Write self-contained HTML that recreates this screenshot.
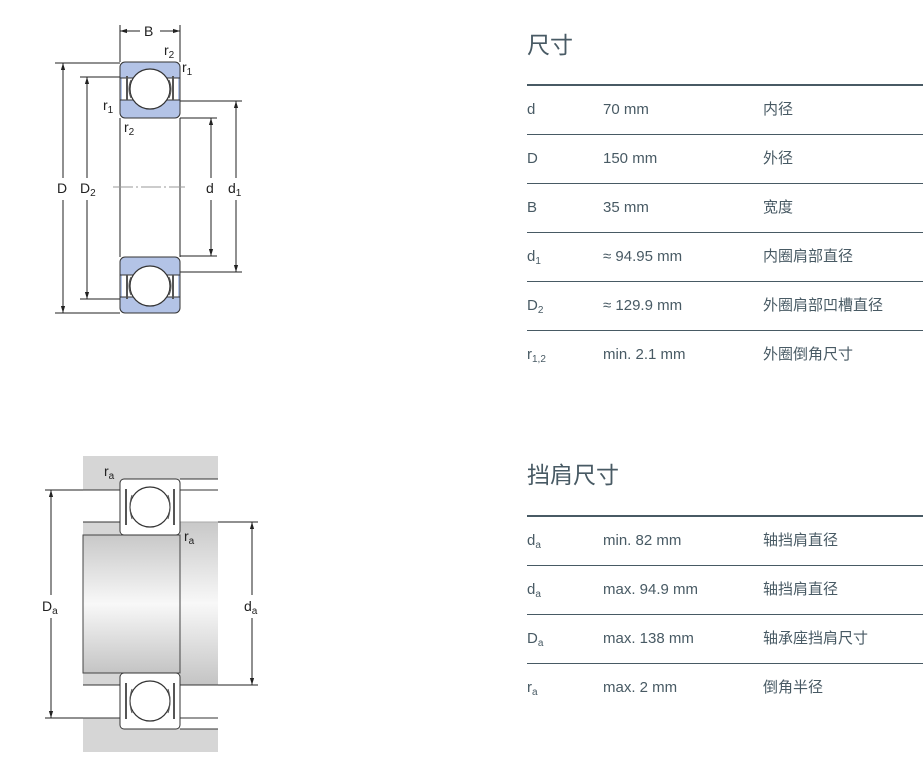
<!DOCTYPE html>
<html><head><meta charset="utf-8"><style>
body{margin:0;width:923px;height:766px;background:#fff;position:relative;overflow:hidden;font-family:"Liberation Sans","Noto Sans CJK SC",sans-serif;color:#485a64}
.t{position:absolute;left:527px;font-size:23px}
.ln{position:absolute;left:527px;width:396px;height:1px;background:#485a64}
.r{position:absolute;font-size:15px;line-height:18px}
sub{font-size:10px;vertical-align:-3px}
svg{position:absolute;left:0;top:0}
svg text{font-family:"Liberation Sans",sans-serif;font-size:14px;fill:#222}
</style></head><body>
<svg width="923" height="766">
<defs>
<linearGradient id="sh" x1="0" y1="0" x2="0" y2="1"><stop offset="0" stop-color="#c8c8c8"/><stop offset="0.5" stop-color="#f8f8f8"/><stop offset="1" stop-color="#c4c4c4"/></linearGradient>
<marker id="a" viewBox="0 0 10 10" refX="10" refY="5" markerWidth="7" markerHeight="7" orient="auto-start-reverse"><path d="M0,2 L10,5 L0,8z" fill="#222"/></marker>
<g id="brg">
<rect x="120" y="0" width="60" height="56" rx="5" fill="#b3c3e6" stroke="#333"/>
<rect x="122" y="16" width="56" height="22" fill="#fff"/>
<line x1="120" y1="16" x2="180" y2="16" stroke="#333"/><line x1="120" y1="38" x2="180" y2="38" stroke="#333"/>
<circle cx="150" cy="27" r="20" fill="#fff" stroke="#333" stroke-width="1.2"/>
<path d="M127,14 v24 M173,14 v24" stroke="#555" stroke-width="2" fill="none"/>
<path d="M131,18 q-4,9 0,18 M169,18 q4,9 0,18" stroke="#555" fill="none"/>
</g>
<g id="brg2">
<rect x="120" y="0" width="60" height="56" rx="4" fill="#fff" stroke="#333"/>
<circle cx="150" cy="28" r="20" fill="#fff" stroke="#333" stroke-width="1.2"/>
<path d="M126,10 v36 M174,10 v36" stroke="#555" stroke-width="2" fill="none"/>
<path d="M132,16 q-4,12 0,24 M168,16 q4,12 0,24" stroke="#555" fill="none"/>
</g>
</defs>
<!-- top diagram -->
<g stroke="#222" fill="none" stroke-width="1">
<line x1="120" y1="118" x2="120" y2="257"/><line x1="180" y1="118" x2="180" y2="257"/>
<line x1="120" y1="25" x2="120" y2="62"/><line x1="180" y1="25" x2="180" y2="62"/>
<line x1="120" y1="31" x2="140" y2="31" marker-start="url(#a)"/><line x1="160" y1="31" x2="180" y2="31" marker-end="url(#a)"/>
<line x1="55" y1="63" x2="120" y2="63"/><line x1="55" y1="313" x2="120" y2="313"/>
<line x1="63" y1="63" x2="63" y2="178" marker-start="url(#a)"/><line x1="63" y1="200" x2="63" y2="313" marker-end="url(#a)"/>
<line x1="80" y1="77" x2="124" y2="77"/><line x1="80" y1="299" x2="124" y2="299"/>
<line x1="87" y1="77" x2="87" y2="178" marker-start="url(#a)"/><line x1="87" y1="200" x2="87" y2="299" marker-end="url(#a)"/>
<line x1="180" y1="118" x2="217" y2="118"/><line x1="180" y1="256" x2="217" y2="256"/>
<line x1="211" y1="118" x2="211" y2="178" marker-start="url(#a)"/><line x1="211" y1="200" x2="211" y2="256" marker-end="url(#a)"/>
<line x1="178" y1="101" x2="242" y2="101"/><line x1="178" y1="272" x2="242" y2="272"/>
<line x1="236" y1="101" x2="236" y2="178" marker-start="url(#a)"/><line x1="236" y1="200" x2="236" y2="272" marker-end="url(#a)"/>
<line x1="113" y1="187" x2="185" y2="187" stroke="#999" stroke-dasharray="20,3,2,3"/>
</g>
<use href="#brg" transform="translate(0,62)"/>
<use href="#brg" transform="matrix(1,0,0,-1,0,313)"/>
<text x="144" y="36">B</text>
<text x="164" y="55">r<tspan font-size="10" dy="3">2</tspan></text>
<text x="182" y="72">r<tspan font-size="10" dy="3">1</tspan></text>
<text x="103" y="110">r<tspan font-size="10" dy="3">1</tspan></text>
<text x="124" y="132">r<tspan font-size="10" dy="3">2</tspan></text>
<text x="57" y="193">D</text>
<text x="80" y="193">D<tspan font-size="10" dy="3">2</tspan></text>
<text x="206" y="193">d</text>
<text x="228" y="193">d<tspan font-size="10" dy="3">1</tspan></text>
<!-- bottom diagram -->
<rect x="83" y="456" width="135" height="34" fill="#d6d6d6"/>
<rect x="180" y="479" width="38" height="11" fill="#fff"/>
<rect x="83" y="718" width="135" height="34" fill="#d6d6d6"/>
<rect x="180" y="718" width="38" height="11" fill="#fff"/>
<rect x="83" y="522" width="37" height="163" fill="#d6d6d6"/>
<rect x="180" y="522" width="38" height="163" fill="url(#sh)"/>
<rect x="83" y="535" width="97" height="138" fill="url(#sh)" stroke="#444"/>
<g stroke="#333" fill="none">
<line x1="83" y1="490" x2="120" y2="490"/><line x1="180" y1="479" x2="218" y2="479"/><line x1="180" y1="490" x2="218" y2="490"/>
<line x1="83" y1="522" x2="120" y2="522"/><line x1="180" y1="522" x2="218" y2="522" stroke="#aaa"/>
<line x1="83" y1="685" x2="120" y2="685"/><line x1="180" y1="685" x2="218" y2="685"/>
<line x1="83" y1="718" x2="120" y2="718"/><line x1="180" y1="718" x2="218" y2="718"/><line x1="180" y1="729" x2="218" y2="729"/>
<line x1="45" y1="490" x2="83" y2="490" stroke="#222"/><line x1="45" y1="718" x2="83" y2="718" stroke="#222"/>
<line x1="51" y1="490" x2="51" y2="595" marker-start="url(#a)" stroke="#222"/><line x1="51" y1="618" x2="51" y2="718" marker-end="url(#a)" stroke="#222"/>
<line x1="218" y1="522" x2="258" y2="522" stroke="#222"/><line x1="218" y1="685" x2="258" y2="685" stroke="#222"/>
<line x1="252" y1="522" x2="252" y2="595" marker-start="url(#a)" stroke="#222"/><line x1="252" y1="618" x2="252" y2="685" marker-end="url(#a)" stroke="#222"/>
</g>
<use href="#brg2" y="479"/><use href="#brg2" y="673"/>
<text x="104" y="476">r<tspan font-size="10" dy="3">a</tspan></text>
<text x="184" y="541">r<tspan font-size="10" dy="3">a</tspan></text>
<text x="42" y="611">D<tspan font-size="10" dy="3">a</tspan></text>
<text x="244" y="611">d<tspan font-size="10" dy="3">a</tspan></text>
</svg>

<div class="t" style="top:26px">尺寸</div>
<div class="ln" style="top:84px;height:2px"></div>
<div class="r" style="left:527px;top:101px">d</div><div class="r" style="left:603px;top:101px">70 mm</div><div class="r" style="left:763px;top:101px">内径</div>
<div class="ln" style="top:134px"></div>
<div class="r" style="left:527px;top:150px">D</div><div class="r" style="left:603px;top:150px">150 mm</div><div class="r" style="left:763px;top:150px">外径</div>
<div class="ln" style="top:183px"></div>
<div class="r" style="left:527px;top:199px">B</div><div class="r" style="left:603px;top:199px">35 mm</div><div class="r" style="left:763px;top:199px">宽度</div>
<div class="ln" style="top:232px"></div>
<div class="r" style="left:527px;top:248px">d<sub>1</sub></div><div class="r" style="left:603px;top:248px">≈ 94.95 mm</div><div class="r" style="left:763px;top:248px">内圈肩部直径</div>
<div class="ln" style="top:281px"></div>
<div class="r" style="left:527px;top:297px">D<sub>2</sub></div><div class="r" style="left:603px;top:297px">≈ 129.9 mm</div><div class="r" style="left:763px;top:297px">外圈肩部凹槽直径</div>
<div class="ln" style="top:330px"></div>
<div class="r" style="left:527px;top:346px">r<sub>1,2</sub></div><div class="r" style="left:603px;top:346px">min. 2.1 mm</div><div class="r" style="left:763px;top:346px">外圈倒角尺寸</div>

<div class="t" style="top:456px">挡肩尺寸</div>
<div class="ln" style="top:515px;height:2px"></div>
<div class="r" style="left:527px;top:532px">d<sub>a</sub></div><div class="r" style="left:603px;top:532px">min. 82 mm</div><div class="r" style="left:763px;top:532px">轴挡肩直径</div>
<div class="ln" style="top:565px"></div>
<div class="r" style="left:527px;top:581px">d<sub>a</sub></div><div class="r" style="left:603px;top:581px">max. 94.9 mm</div><div class="r" style="left:763px;top:581px">轴挡肩直径</div>
<div class="ln" style="top:614px"></div>
<div class="r" style="left:527px;top:630px">D<sub>a</sub></div><div class="r" style="left:603px;top:630px">max. 138 mm</div><div class="r" style="left:763px;top:630px">轴承座挡肩尺寸</div>
<div class="ln" style="top:663px"></div>
<div class="r" style="left:527px;top:679px">r<sub>a</sub></div><div class="r" style="left:603px;top:679px">max. 2 mm</div><div class="r" style="left:763px;top:679px">倒角半径</div>
</body></html>
